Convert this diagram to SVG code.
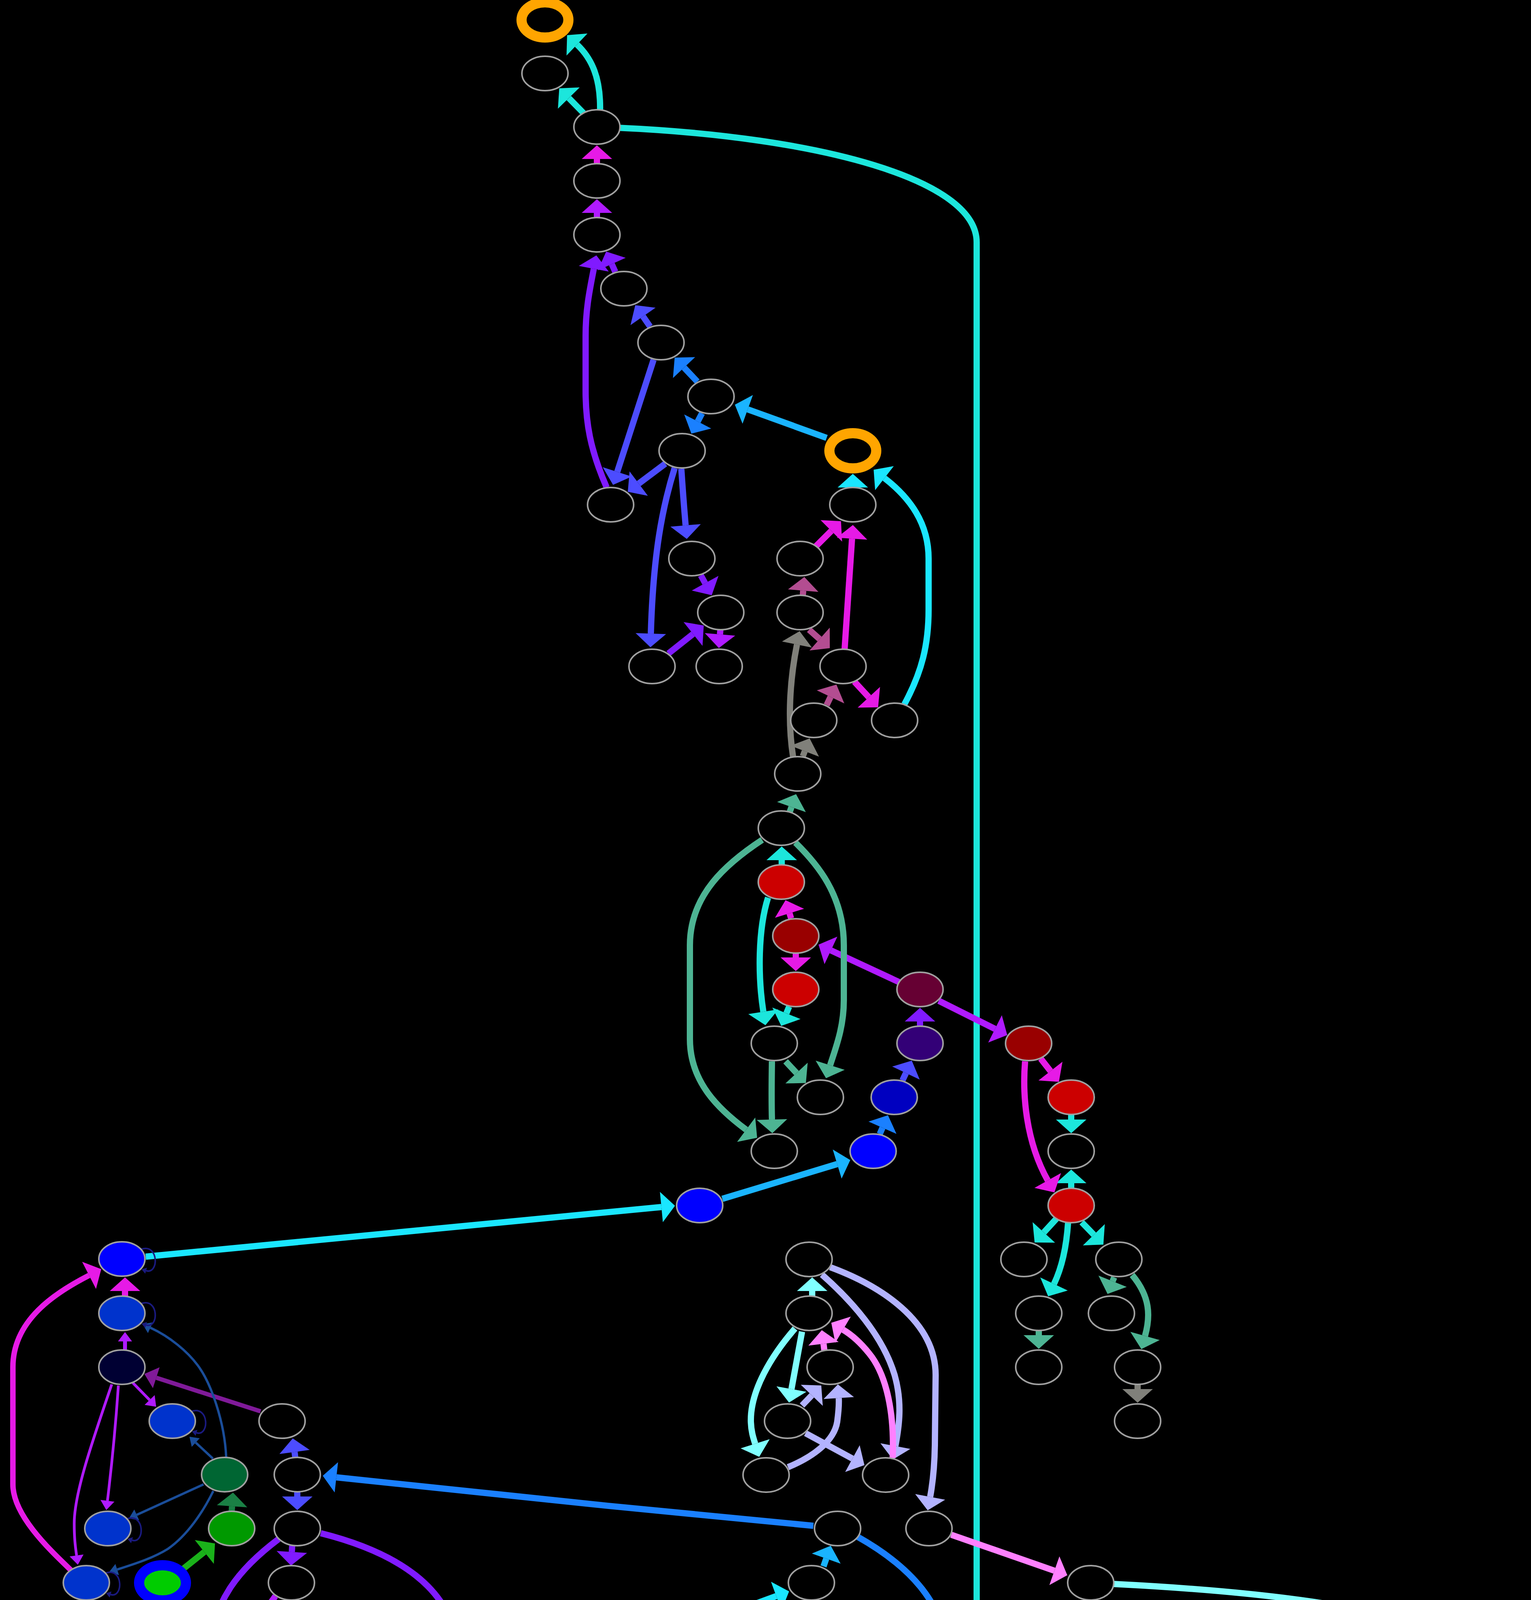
<svg xmlns="http://www.w3.org/2000/svg" width="3919" height="6159" viewBox="0 0 3919 6159">
<style>
.n{fill:#000;stroke:#a0a0a0;stroke-width:4}
.ring{fill:#000;stroke:#ffa500;stroke-width:26}
.e{fill:none;stroke-width:16}
.teal{stroke:#1ce6dc}.bcyan{stroke:#1ae6ff}.sky{stroke:#1ab4ff}.blue{stroke:#1a80ff}.bluev{stroke:#4c4cff}
.violet{stroke:#801aff}.purple{stroke:#b01aff}.magenta{stroke:#e61ae6}.mauve{stroke:#b34d91}.gray{stroke:#80807a}
.sea{stroke:#4db493}.lcyan{stroke:#80ffff}.lav{stroke:#b3b3ff}.pink{stroke:#ff80ff}.green1{stroke:#1a8045}.green2{stroke:#1ab21a}
.dpurple{stroke:#801a99}.dblue{stroke:#1a4d99}.navy{stroke:#1a1a80}
text{font-family:"Liberation Sans",Arial,sans-serif;font-size:50px;fill:#fff}
</style>
<defs>
<marker id="a-teal" markerUnits="userSpaceOnUse" orient="auto" refX="0" refY="0" viewBox="0 -40 36 80" markerWidth="36" markerHeight="80" overflow="visible"><path d="M0,-39 L35,0 L0,39 Z" fill="#1ce6dc"/></marker>
<marker id="a-bcyan" markerUnits="userSpaceOnUse" orient="auto" refX="0" refY="0" viewBox="0 -40 36 80" markerWidth="36" markerHeight="80" overflow="visible"><path d="M0,-39 L35,0 L0,39 Z" fill="#1ae6ff"/></marker>
<marker id="a-sky" markerUnits="userSpaceOnUse" orient="auto" refX="0" refY="0" viewBox="0 -40 36 80" markerWidth="36" markerHeight="80" overflow="visible"><path d="M0,-39 L35,0 L0,39 Z" fill="#1ab4ff"/></marker>
<marker id="a-blue" markerUnits="userSpaceOnUse" orient="auto" refX="0" refY="0" viewBox="0 -40 36 80" markerWidth="36" markerHeight="80" overflow="visible"><path d="M0,-39 L35,0 L0,39 Z" fill="#1a80ff"/></marker>
<marker id="a-bluev" markerUnits="userSpaceOnUse" orient="auto" refX="0" refY="0" viewBox="0 -40 36 80" markerWidth="36" markerHeight="80" overflow="visible"><path d="M0,-39 L35,0 L0,39 Z" fill="#4c4cff"/></marker>
<marker id="a-violet" markerUnits="userSpaceOnUse" orient="auto" refX="0" refY="0" viewBox="0 -40 36 80" markerWidth="36" markerHeight="80" overflow="visible"><path d="M0,-39 L35,0 L0,39 Z" fill="#801aff"/></marker>
<marker id="a-purple" markerUnits="userSpaceOnUse" orient="auto" refX="0" refY="0" viewBox="0 -40 36 80" markerWidth="36" markerHeight="80" overflow="visible"><path d="M0,-39 L35,0 L0,39 Z" fill="#b01aff"/></marker>
<marker id="a-magenta" markerUnits="userSpaceOnUse" orient="auto" refX="0" refY="0" viewBox="0 -40 36 80" markerWidth="36" markerHeight="80" overflow="visible"><path d="M0,-39 L35,0 L0,39 Z" fill="#e61ae6"/></marker>
<marker id="a-mauve" markerUnits="userSpaceOnUse" orient="auto" refX="0" refY="0" viewBox="0 -40 36 80" markerWidth="36" markerHeight="80" overflow="visible"><path d="M0,-39 L35,0 L0,39 Z" fill="#b34d91"/></marker>
<marker id="a-gray" markerUnits="userSpaceOnUse" orient="auto" refX="0" refY="0" viewBox="0 -40 36 80" markerWidth="36" markerHeight="80" overflow="visible"><path d="M0,-39 L35,0 L0,39 Z" fill="#80807a"/></marker>
<marker id="a-sea" markerUnits="userSpaceOnUse" orient="auto" refX="0" refY="0" viewBox="0 -40 36 80" markerWidth="36" markerHeight="80" overflow="visible"><path d="M0,-39 L35,0 L0,39 Z" fill="#4db493"/></marker>
<marker id="a-lcyan" markerUnits="userSpaceOnUse" orient="auto" refX="0" refY="0" viewBox="0 -40 36 80" markerWidth="36" markerHeight="80" overflow="visible"><path d="M0,-39 L35,0 L0,39 Z" fill="#80ffff"/></marker>
<marker id="a-lav" markerUnits="userSpaceOnUse" orient="auto" refX="0" refY="0" viewBox="0 -40 36 80" markerWidth="36" markerHeight="80" overflow="visible"><path d="M0,-39 L35,0 L0,39 Z" fill="#b3b3ff"/></marker>
<marker id="a-pink" markerUnits="userSpaceOnUse" orient="auto" refX="0" refY="0" viewBox="0 -40 36 80" markerWidth="36" markerHeight="80" overflow="visible"><path d="M0,-39 L35,0 L0,39 Z" fill="#ff80ff"/></marker>
<marker id="a-green1" markerUnits="userSpaceOnUse" orient="auto" refX="0" refY="0" viewBox="0 -40 36 80" markerWidth="36" markerHeight="80" overflow="visible"><path d="M0,-39 L35,0 L0,39 Z" fill="#1a8045"/></marker>
<marker id="a-green2" markerUnits="userSpaceOnUse" orient="auto" refX="0" refY="0" viewBox="0 -40 36 80" markerWidth="36" markerHeight="80" overflow="visible"><path d="M0,-39 L35,0 L0,39 Z" fill="#1ab21a"/></marker>
<marker id="s-purple" markerUnits="userSpaceOnUse" orient="auto" refX="0" refY="0" viewBox="0 -20 26 40" markerWidth="26" markerHeight="40" overflow="visible"><path d="M0,-18 L24,0 L0,18 Z" fill="#b01aff"/></marker>
<marker id="s-dblue" markerUnits="userSpaceOnUse" orient="auto" refX="0" refY="0" viewBox="0 -16 24 32" markerWidth="24" markerHeight="32" overflow="visible"><path d="M0,-15 L22,0 L0,15 Z" fill="#1a4d99"/></marker>
<marker id="m-dpurple" markerUnits="userSpaceOnUse" orient="auto" refX="0" refY="0" viewBox="0 -30 34 60" markerWidth="34" markerHeight="60" overflow="visible"><path d="M0,-28 L32,0 L0,28 Z" fill="#801a99"/></marker>
<marker id="t-navy" markerUnits="userSpaceOnUse" orient="auto" refX="0" refY="0" viewBox="0 -9 14 18" markerWidth="14" markerHeight="18" overflow="visible"><path d="M0,-8 L12,0 L0,8 Z" fill="#1a1a80"/></marker>
</defs>
<rect x="0" y="0" width="3919" height="6159" fill="#000"/>
<g id="connectors">
<path class="e teal" marker-end="url(#a-teal)" d="M1536,285 C1538,200 1515,150 1477,114"/>
<path class="e teal" marker-end="url(#a-teal)" d="M1500,296 L1456,251"/>
<path class="e teal" marker-end="url(#a-teal)" d="M1580,327 C2100,350 2500,460 2500,620 L2500,4620 C2500,4820 2250,4878 1730,4880"/>
<path class="e teal" marker-end="url(#a-teal)" d="M2001,2215 L2001,2202"/>
<path class="e teal" marker-end="url(#a-teal)" d="M1966,2298 C1940,2380 1940,2500 1954,2590"/>
<path class="e teal" marker-end="url(#a-teal)" d="M2020,2577 L2013,2594"/>
<path class="e teal" marker-end="url(#a-teal)" d="M2742,2850 L2742,2866"/>
<path class="e teal" marker-end="url(#a-teal)" d="M2742,3045 L2742,3029"/>
<path class="e teal" marker-end="url(#a-teal)" d="M2705,3119 L2672,3155"/>
<path class="e teal" marker-end="url(#a-teal)" d="M2734,3130 C2730,3190 2718,3245 2698,3287"/>
<path class="e teal" marker-end="url(#a-teal)" d="M2769,3129 L2800,3161"/>
<path class="e teal" marker-end="url(#a-teal)" d="M848,4366 L839,4386"/>
<path class="e teal" marker-end="url(#a-teal)" d="M884,4375 L940,4525"/>
<path class="e teal" marker-end="url(#a-teal)" d="M913,4364 L964,4405"/>
<path class="e teal" marker-end="url(#a-teal)" d="M816,4560 L816,4548"/>
<path class="e teal" marker-end="url(#a-teal)" d="M816,4648 L818,4663"/>
<path class="e bcyan" marker-end="url(#a-bcyan)" d="M2183,1260 L2183,1248"/>
<path class="e bcyan" marker-end="url(#a-bcyan)" d="M2315,1803 C2360,1720 2377,1650 2377,1560 L2377,1430 C2377,1340 2330,1275 2264,1224"/>
<path class="e bcyan" marker-end="url(#a-bcyan)" d="M373,3217 L1693,3090"/>
<path class="e bcyan" marker-end="url(#a-bcyan)" d="M1760,4169 L1987,4086"/>
<path class="e bcyan" marker-end="url(#a-bcyan)" d="M1652,4208 L1465,4279"/>
<path class="e bcyan" marker-end="url(#a-bcyan)" d="M1760,4211 L1971,4296"/>
<path class="e bcyan" marker-end="url(#a-bcyan)" d="M1975,4560 C1985,4420 2020,4240 2058,4131"/>
<path class="e bcyan" marker-end="url(#a-bcyan)" d="M1791,4648 L1791,4660"/>
<path class="e sky" marker-end="url(#a-sky)" d="M2116,1121 L1914,1048"/>
<path class="e sky" marker-end="url(#a-sky)" d="M1849,3069 L2143,2980"/>
<path class="e sky" marker-end="url(#a-sky)" d="M2108,4010 L2115,3990"/>
<path class="e sky" marker-end="url(#a-sky)" d="M2083,4099 L2195,4388"/>
<path class="e sky" marker-end="url(#a-sky)" d="M2072,4372 L2072,4385"/>
<path class="e sky" marker-end="url(#a-sky)" d="M2116,4366 L2159,4402"/>
<path class="e sky" marker-end="url(#a-sky)" d="M1360,4375 L1360,4385"/>
<path class="e blue" marker-end="url(#a-blue)" d="M1785,977 L1751,941"/>
<path class="e blue" marker-end="url(#a-blue)" d="M1797,1058 L1786,1079"/>
<path class="e blue" marker-end="url(#a-blue)" d="M2252,2903 L2259,2887"/>
<path class="e blue" marker-end="url(#a-blue)" d="M2082,3906 C1700,3870 1200,3820 861,3782"/>
<path class="e blue" marker-end="url(#a-blue)" d="M2195,3934 C2330,4010 2425,4110 2425,4250 L2425,4480 C2425,4560 2400,4610 2373,4664"/>
<path class="e blue" marker-end="url(#a-blue)" d="M2212,4502 L2189,4530"/>
<path class="e blue" marker-end="url(#a-blue)" d="M2257,4509 L2264,4525"/>
<path class="e bluev" marker-end="url(#a-bluev)" d="M1664,836 L1646,810"/>
<path class="e bluev" marker-end="url(#a-bluev)" d="M1673,921 L1580,1208"/>
<path class="e bluev" marker-end="url(#a-bluev)" d="M1703,1187 L1635,1238"/>
<path class="e bluev" marker-end="url(#a-bluev)" d="M1727,1198 C1695,1300 1672,1420 1666,1622"/>
<path class="e bluev" marker-end="url(#a-bluev)" d="M1744,1200 C1748,1260 1752,1310 1755,1345"/>
<path class="e bluev" marker-end="url(#a-bluev)" d="M2310,2766 L2319,2747"/>
<path class="e bluev" marker-end="url(#a-bluev)" d="M756,3732 L754,3717"/>
<path class="e bluev" marker-end="url(#a-bluev)" d="M761,3819 L761,3831"/>
<path class="e bluev" marker-end="url(#a-bluev)" d="M2130,4648 L2130,4660"/>
<path class="e violet" marker-end="url(#a-violet)" d="M1575,696 L1566,676"/>
<path class="e violet" marker-end="url(#a-violet)" d="M1553,1248 C1510,1150 1499,1080 1499,1000 L1499,860 C1499,790 1510,740 1520,688"/>
<path class="e violet" marker-end="url(#a-violet)" d="M1794,1473 L1805,1493"/>
<path class="e violet" marker-end="url(#a-violet)" d="M1711,1673 L1774,1623"/>
<path class="e violet" marker-end="url(#a-violet)" d="M2355,2627 L2355,2615"/>
<path class="e violet" marker-end="url(#a-violet)" d="M748,3957 L747,3973"/>
<path class="e violet" marker-end="url(#a-violet)" d="M821,3925 C1000,3970 1173,4060 1173,4250 L1173,4750 C1173,4850 1080,4920 1000,4971"/>
<path class="e violet" marker-end="url(#a-violet)" d="M713,3940 C620,4010 535,4100 536,4250 L537,4600 C538,4700 570,4760 614,4818"/>
<path class="e purple" marker-end="url(#a-purple)" d="M1528,557 L1528,545"/>
<path class="e purple" marker-end="url(#a-purple)" d="M1844,1612 L1843,1624"/>
<path class="e purple" marker-end="url(#a-purple)" d="M2301,2514 L2127,2433"/>
<path class="e purple" marker-end="url(#a-purple)" d="M2403,2562 L2547,2634"/>
<path class="e purple" marker-end="url(#a-purple)" d="M746,4096 L746,4109"/>
<path class="e purple" marker-end="url(#a-purple)" d="M705,4086 C650,4160 607,4250 607,4400 C607,4530 625,4600 645,4665"/>
<path class="e purple" marker-end="url(#a-purple)" d="M687,4836 L687,4823"/>
<path class="e purple" style="stroke-width:10" marker-end="url(#s-purple)" d="M320,3456 L320,3434"/>
<path class="e purple" style="stroke-width:7" marker-end="url(#s-purple)" d="M340,3540 L383,3584"/>
<path class="e purple" style="stroke-width:7" marker-end="url(#s-purple)" d="M303,3547 C296,3650 285,3760 275,3842"/>
<path class="e purple" style="stroke-width:7" marker-end="url(#s-purple)" d="M286,3544 C240,3680 190,3820 190,3900 C190,3940 193,3960 196,3982"/>
<path class="e magenta" marker-end="url(#a-magenta)" d="M1528,419 L1528,407"/>
<path class="e magenta" marker-end="url(#a-magenta)" d="M2087,1400 L2128,1359"/>
<path class="e magenta" marker-end="url(#a-magenta)" d="M2162,1662 C2168,1560 2176,1460 2181,1379"/>
<path class="e magenta" marker-end="url(#a-magenta)" d="M2187,1745 L2224,1785"/>
<path class="e magenta" marker-end="url(#a-magenta)" d="M2025,2351 L2021,2338"/>
<path class="e magenta" marker-end="url(#a-magenta)" d="M2037,2440 L2037,2451"/>
<path class="e magenta" marker-end="url(#a-magenta)" d="M2664,2710 L2689,2742"/>
<path class="e magenta" marker-end="url(#a-magenta)" d="M2624,2717 C2617,2800 2625,2920 2682,3022"/>
<path class="e magenta" marker-end="url(#a-magenta)" d="M320,3318 L320,3305"/>
<path class="e magenta" style="stroke-width:14" marker-end="url(#a-magenta)" d="M182,4020 C130,3970 33,3880 33,3800 L33,3500 C33,3380 140,3310 228,3265"/>
<path class="e magenta" marker-end="url(#a-magenta)" d="M775,4232 L810,4267"/>
<path class="e magenta" marker-end="url(#a-magenta)" d="M721,4708 L755,4671"/>
<path class="e magenta" marker-end="url(#a-magenta)" d="M1713,4284 L1713,4272"/>
<path class="e magenta" marker-end="url(#a-magenta)" d="M1484,4695 C1510,4560 1560,4420 1660,4264"/>
<path class="e magenta" marker-end="url(#a-magenta)" d="M1756,4355 C1830,4400 1885,4460 1922,4529"/>
<path class="e magenta" marker-end="url(#a-magenta)" d="M1766,4510 L1769,4525"/>
<path class="e magenta" marker-end="url(#a-magenta)" d="M1801,4499 L1883,4553"/>
<path class="e mauve" marker-end="url(#a-mauve)" d="M2055,1524 L2056,1512"/>
<path class="e mauve" marker-end="url(#a-mauve)" d="M2071,1612 L2098,1636"/>
<path class="e mauve" marker-end="url(#a-mauve)" d="M2116,1805 L2126,1784"/>
<path class="e mauve" marker-end="url(#a-mauve)" d="M1646,4558 L1688,4411"/>
<path class="e mauve" marker-end="url(#a-mauve)" d="M1669,4569 L1695,4537"/>
<path class="e mauve" marker-end="url(#a-mauve)" d="M1586,4636 L1531,4683"/>
<path class="e mauve" marker-end="url(#a-mauve)" d="M1844,5337 L1883,5372"/>
<path class="e mauve" marker-end="url(#a-mauve)" d="M1815,5343 C1825,5400 1838,5450 1849,5492"/>
<path class="e mauve" marker-end="url(#a-mauve)" d="M1802,5343 C1785,5430 1780,5530 1791,5630"/>
<path class="e gray" marker-end="url(#a-gray)" d="M2030,1937 C2018,1860 2018,1760 2040,1650"/>
<path class="e gray" marker-end="url(#a-gray)" d="M2055,1936 L2060,1923"/>
<path class="e gray" marker-end="url(#a-gray)" d="M2912,3544 L2912,3556"/>
<path class="e gray" marker-end="url(#a-gray)" d="M1640,4698 L1640,4686"/>
<path class="e gray" marker-end="url(#a-gray)" d="M1755,5202 L1768,5223"/>
<path class="e gray" marker-end="url(#a-gray)" d="M1677,5402 L1750,5351"/>
<path class="e gray" marker-end="url(#a-gray)" d="M1624,5475 L1624,5489"/>
<path class="e sea" marker-end="url(#a-sea)" d="M2021,2080 L2026,2066"/>
<path class="e sea" marker-end="url(#a-sea)" d="M1951,2150 C1860,2210 1766,2290 1766,2420 L1766,2660 C1766,2770 1840,2840 1910,2892"/>
<path class="e sea" marker-end="url(#a-sea)" d="M2036,2157 C2090,2210 2160,2290 2160,2420 L2160,2560 C2160,2630 2140,2680 2125,2727"/>
<path class="e sea" marker-end="url(#a-sea)" d="M1976,2717 C1975,2780 1975,2830 1976,2866"/>
<path class="e sea" marker-end="url(#a-sea)" d="M2011,2717 L2039,2747"/>
<path class="e sea" marker-end="url(#a-sea)" d="M2659,3405 L2659,3418"/>
<path class="e sea" marker-end="url(#a-sea)" d="M2852,3270 L2848,3280"/>
<path class="e sea" marker-end="url(#a-sea)" d="M2898,3264 C2945,3320 2945,3370 2931,3420"/>
<path class="e sea" marker-end="url(#a-sea)" d="M1640,4836 L1640,4824"/>
<path class="e sea" marker-end="url(#a-sea)" d="M1594,4919 L1556,4952"/>
<path class="e sea" marker-end="url(#a-sea)" d="M1625,4926 C1617,5050 1617,5250 1625,5350"/>
<path class="e sea" marker-end="url(#a-sea)" d="M1643,4928 L1704,5082"/>
<path class="e lcyan" marker-end="url(#a-lcyan)" d="M2079,3318 L2079,3305"/>
<path class="e lcyan" marker-end="url(#a-lcyan)" d="M2053,3409 L2026,3556"/>
<path class="e lcyan" marker-end="url(#a-lcyan)" d="M2035,3401 C1975,3470 1920,3560 1922,3640 C1923,3665 1928,3680 1933,3696"/>
<path class="e lcyan" marker-end="url(#a-lcyan)" d="M2785,4096 L2785,4109"/>
<path class="e lcyan" marker-end="url(#a-lcyan)" d="M2851,4055 C3250,4075 3600,4120 3720,4200 C3770,4240 3794,4290 3794,4350 L3794,4730 C3794,4820 3780,4880 3762,4938"/>
<path class="e lcyan" marker-end="url(#a-lcyan)" d="M2837,5062 L2837,5075"/>
<path class="e lav" marker-end="url(#a-lav)" d="M2104,3263 C2180,3330 2260,3420 2290,3520 C2310,3590 2302,3650 2292,3702"/>
<path class="e lav" marker-end="url(#a-lav)" d="M2125,3244 C2250,3290 2395,3380 2395,3520 L2393,3700 C2392,3760 2387,3800 2381,3832"/>
<path class="e lav" marker-end="url(#a-lav)" d="M2053,3598 L2078,3572"/>
<path class="e lav" marker-end="url(#a-lav)" d="M2017,3756 C2080,3730 2135,3690 2143,3640 C2147,3610 2148,3595 2147,3579"/>
<path class="e lav" marker-end="url(#a-lav)" d="M2062,3669 L2182,3734"/>
<path class="e lav" marker-end="url(#a-lav)" d="M2785,4233 L2785,4247"/>
<path class="e lav" marker-end="url(#a-lav)" d="M2851,4205 L3320,4307"/>
<path class="e lav" marker-end="url(#a-lav)" d="M2751,4223 C2700,4290 2650,4380 2626,4523"/>
<path class="e lav" marker-end="url(#a-lav)" d="M3703,4984 L3602,4925"/>
<path class="e lav" marker-end="url(#a-lav)" d="M3713,5055 L3699,5081"/>
<path class="e lav" marker-end="url(#a-lav)" d="M3763,5061 L3777,5084"/>
<path class="e pink" marker-end="url(#a-pink)" d="M2110,3456 L2108,3440"/>
<path class="e pink" marker-end="url(#a-pink)" d="M2285,3732 C2290,3620 2270,3520 2225,3465 C2205,3440 2185,3420 2158,3404"/>
<path class="e pink" marker-end="url(#a-pink)" d="M2435,3929 L2699,4021"/>
<path class="e pink" marker-end="url(#a-pink)" d="M2825,4368 L2869,4409"/>
<path class="e pink" marker-end="url(#a-pink)" d="M2793,4373 C2805,4480 2818,4590 2828,4663"/>
<path class="e pink" marker-end="url(#a-pink)" d="M2779,4373 C2752,4480 2740,4640 2750,4760 C2760,4850 2780,4900 2802,4944"/>
<path class="e pink" marker-end="url(#a-pink)" d="M2677,4584 L2853,4505"/>
<path class="e pink" marker-end="url(#a-pink)" d="M2664,4638 L2762,4698"/>
<path class="e pink" marker-end="url(#a-pink)" d="M2611,4650 C2615,4770 2650,4900 2760,4982"/>
<path class="e pink" marker-end="url(#a-pink)" d="M3407,4371 L3407,4385"/>
<path class="e pink" marker-end="url(#a-pink)" d="M3362,4352 C3250,4430 3150,4530 3152,4650 C3153,4730 3190,4780 3221,4816"/>
<path class="e pink" marker-end="url(#a-pink)" d="M3454,4368 C3510,4430 3525,4540 3486,4664"/>
<path class="e pink" marker-end="url(#a-pink)" d="M3480,4352 C3620,4420 3716,4520 3716,4620 L3716,4760 C3716,4850 3650,4910 3593,4968"/>
<path class="e pink" marker-end="url(#a-pink)" d="M3510,4836 L3502,4814"/>
<path class="e pink" marker-end="url(#a-pink)" d="M3510,4924 L3510,4936"/>
<path class="e dpurple" style="stroke-width:11" marker-end="url(#m-dpurple)" d="M667,3613 L400,3527"/>
<path class="e dblue" style="stroke-width:6" marker-end="url(#s-dblue)" d="M579,3731 C575,3640 540,3540 506,3495 C480,3460 435,3422 385,3399"/>
<path class="e dblue" style="stroke-width:6" marker-end="url(#s-dblue)" d="M545,3734 L501,3693"/>
<path class="e dblue" style="stroke-width:6" marker-end="url(#s-dblue)" d="M521,3800 L350,3878"/>
<path class="e dblue" style="stroke-width:6" marker-end="url(#s-dblue)" d="M546,3817 C520,3870 480,3930 430,3965 C390,3990 340,4005 300,4018"/>
<path class="e green1" marker-end="url(#a-green1)" d="M593,3870 L594,3856"/>
<path class="e green2" marker-end="url(#a-green2)" d="M468,4017 L523,3973"/>
<path class="e navy" style="stroke-width:4" marker-end="url(#t-navy)" d="M362,3198 C407,3183 407,3263 374,3253"/>
<path class="e navy" style="stroke-width:4" marker-end="url(#t-navy)" d="M362,3337 C407,3322 407,3402 374,3392"/>
<path class="e navy" style="stroke-width:4" marker-end="url(#t-navy)" d="M491,3613 C536,3598 536,3678 503,3668"/>
<path class="e navy" style="stroke-width:4" marker-end="url(#t-navy)" d="M326,3888 C371,3873 371,3953 338,3943"/>
<path class="e navy" style="stroke-width:4" marker-end="url(#t-navy)" d="M271,4027 C316,4012 316,4092 283,4082"/>
</g>
<g id="nodes">
<g id="n1"><ellipse class="ring" cx="1395" cy="51" rx="60" ry="45"/></g>
<g id="nA"><ellipse class="n" cx="1395" cy="188" rx="59" ry="44"/></g>
<g id="nB"><ellipse class="n" cx="1528" cy="325" rx="59" ry="44"/></g>
<g id="nC"><ellipse class="n" cx="1528" cy="463" rx="59" ry="44"/></g>
<g id="nD"><ellipse class="n" cx="1528" cy="601" rx="59" ry="44"/></g>
<g id="nE"><ellipse class="n" cx="1597" cy="739" rx="59" ry="44"/></g>
<g id="nF"><ellipse class="n" cx="1692" cy="877" rx="59" ry="44"/></g>
<g id="nG"><ellipse class="n" cx="1820" cy="1015" rx="59" ry="44"/></g>
<g id="nH"><ellipse class="n" cx="1746" cy="1154" rx="59" ry="44"/></g>
<g id="nOR2"><ellipse class="ring" cx="2183" cy="1154" rx="60" ry="45"/></g>
<g id="nI"><ellipse class="n" cx="1563" cy="1292" rx="59" ry="44"/></g>
<g id="nJ"><ellipse class="n" cx="2183" cy="1292" rx="59" ry="44"/></g>
<g id="nK"><ellipse class="n" cx="1771" cy="1430" rx="59" ry="44"/></g>
<g id="nL"><ellipse class="n" cx="2048" cy="1430" rx="59" ry="44"/></g>
<g id="nM"><ellipse class="n" cx="1845" cy="1568" rx="59" ry="44"/></g>
<g id="nN"><ellipse class="n" cx="2048" cy="1568" rx="59" ry="44"/></g>
<g id="nO"><ellipse class="n" cx="1669" cy="1706" rx="59" ry="44"/></g>
<g id="nP"><ellipse class="n" cx="1841" cy="1706" rx="59" ry="44"/></g>
<g id="nQ"><ellipse class="n" cx="2158" cy="1706" rx="59" ry="44"/></g>
<g id="nR"><ellipse class="n" cx="2083" cy="1844" rx="59" ry="44"/></g>
<g id="nS"><ellipse class="n" cx="2290" cy="1844" rx="59" ry="44"/></g>
<g id="nT"><ellipse class="n" cx="2042" cy="1981" rx="59" ry="44"/></g>
<g id="nU"><ellipse class="n" cx="2000" cy="2120" rx="59" ry="44"/></g>
<g id="nV"><ellipse class="n" style="fill:#cc0000" cx="2000" cy="2258" rx="59" ry="44"/></g>
<g id="nW"><ellipse class="n" style="fill:#990000" cx="2037" cy="2396" rx="59" ry="44"/></g>
<g id="nX"><ellipse class="n" style="fill:#cc0000" cx="2037" cy="2533" rx="59" ry="44"/></g>
<g id="nY"><ellipse class="n" style="fill:#660033" cx="2355" cy="2533" rx="59" ry="44"/></g>
<g id="nZ"><ellipse class="n" cx="1982" cy="2671" rx="59" ry="44"/></g>
<g id="nAA"><ellipse class="n" style="fill:#330077" cx="2355" cy="2671" rx="59" ry="44"/></g>
<g id="nAB"><ellipse class="n" cx="2100" cy="2809" rx="59" ry="44"/></g>
<g id="nAC"><ellipse class="n" style="fill:#0000c0" cx="2289" cy="2809" rx="59" ry="44"/></g>
<g id="nAD"><ellipse class="n" cx="1982" cy="2947" rx="59" ry="44"/></g>
<g id="nAE"><ellipse class="n" style="fill:#0000ff" cx="2235" cy="2947" rx="59" ry="44"/></g>
<g id="nAF"><ellipse class="n" style="fill:#0000ff" cx="1791" cy="3086" rx="59" ry="44"/></g>
<g id="nAG"><ellipse class="n" style="fill:#990000" cx="2633" cy="2671" rx="59" ry="44"/></g>
<g id="nAH"><ellipse class="n" style="fill:#cc0000" cx="2742" cy="2809" rx="59" ry="44"/></g>
<g id="nAI"><ellipse class="n" cx="2742" cy="2947" rx="59" ry="44"/></g>
<g id="nAJ"><ellipse class="n" style="fill:#cc0000" cx="2742" cy="3086" rx="59" ry="44"/></g>
<g id="nAK"><ellipse class="n" cx="2621" cy="3224" rx="59" ry="44"/></g>
<g id="nAL"><ellipse class="n" cx="2864" cy="3224" rx="59" ry="44"/></g>
<g id="nAM"><ellipse class="n" cx="2659" cy="3362" rx="59" ry="44"/></g>
<g id="nAN"><ellipse class="n" cx="2845" cy="3362" rx="59" ry="44"/></g>
<g id="nAO"><ellipse class="n" cx="2659" cy="3500" rx="59" ry="44"/></g>
<g id="nAP"><ellipse class="n" cx="2912" cy="3500" rx="59" ry="44"/></g>
<g id="nAQ"><ellipse class="n" cx="2912" cy="3638" rx="59" ry="44"/></g>
<g id="nAF2"><ellipse class="n" style="fill:#0000ff" cx="312" cy="3223" rx="59" ry="44"/></g>
<g id="nBA"><ellipse class="n" style="fill:#0033cc" cx="312" cy="3362" rx="59" ry="44"/></g>
<g id="nBB"><ellipse class="n" style="fill:#000033" cx="312" cy="3500" rx="59" ry="44"/></g>
<g id="nBC"><ellipse class="n" style="fill:#0033cc" cx="441" cy="3638" rx="59" ry="44"/></g>
<g id="nBD"><ellipse class="n" cx="722" cy="3638" rx="59" ry="44"/></g>
<g id="nBE"><ellipse class="n" style="fill:#006633" cx="575" cy="3775" rx="59" ry="44"/></g>
<g id="nBF"><ellipse class="n" cx="761" cy="3775" rx="59" ry="44"/></g>
<g id="nBG"><ellipse class="n" style="fill:#0033cc" cx="276" cy="3913" rx="59" ry="44"/></g>
<g id="nBH"><ellipse class="n" style="fill:#009900" cx="593" cy="3913" rx="59" ry="44"/></g>
<g id="nBI"><ellipse class="n" cx="761" cy="3913" rx="59" ry="44"/></g>
<g id="nBJ"><ellipse class="n" style="fill:#0033cc" cx="221" cy="4052" rx="59" ry="44"/></g>
<g id="nBK"><ellipse cx="416" cy="4052" rx="60" ry="45" style="fill:#00cc00;stroke:#0000ff;stroke-width:26"/></g>
<g id="nBL"><ellipse class="n" cx="746" cy="4052" rx="59" ry="44"/></g>
<g id="nBM"><ellipse class="n" cx="746" cy="4190" rx="59" ry="44"/></g>
<g id="nBN"><ellipse class="n" cx="874" cy="4328" rx="59" ry="44"/></g>
<g id="nBO"><ellipse class="n" cx="808" cy="4466" rx="59" ry="44"/></g>
<g id="nOR3"><ellipse class="ring" cx="1051" cy="4466" rx="60" ry="45"/></g>
<g id="nBP"><ellipse class="n" cx="808" cy="4604" rx="59" ry="44"/></g>
<g id="nBQ"><ellipse class="n" cx="976" cy="4604" rx="59" ry="44"/></g>
<g id="nBR"><ellipse class="n" cx="679" cy="4741" rx="59" ry="44"/></g>
<g id="nBS"><ellipse class="n" cx="847" cy="4741" rx="59" ry="44"/></g>
<g id="nBT"><ellipse class="n" cx="679" cy="4880" rx="59" ry="44"/></g>
<g id="nBU"><ellipse class="n" cx="921" cy="5018" rx="59" ry="44"/></g>
<g id="nCA"><ellipse class="n" cx="2071" cy="3224" rx="59" ry="44"/></g>
<g id="nCB"><ellipse class="n" cx="2071" cy="3362" rx="59" ry="44"/></g>
<g id="nCC"><ellipse class="n" cx="2125" cy="3500" rx="59" ry="44"/></g>
<g id="nCD"><ellipse class="n" cx="2016" cy="3638" rx="59" ry="44"/></g>
<g id="nCE"><ellipse class="n" cx="1961" cy="3776" rx="59" ry="44"/></g>
<g id="nCF"><ellipse class="n" cx="2267" cy="3776" rx="59" ry="44"/></g>
<g id="nCG"><ellipse class="n" cx="2144" cy="3913" rx="59" ry="44"/></g>
<g id="nCH"><ellipse class="n" cx="2378" cy="3913" rx="59" ry="44"/></g>
<g id="nDA"><ellipse class="n" cx="2077" cy="4052" rx="59" ry="44"/></g>
<g id="nDB"><ellipse class="n" cx="1705" cy="4190" rx="59" ry="44"/></g>
<g id="nOR4"><ellipse class="ring" cx="1368" cy="4328" rx="60" ry="45"/></g>
<g id="nDC"><ellipse class="n" cx="1705" cy="4328" rx="59" ry="44"/></g>
<g id="nDD"><ellipse class="n" cx="2077" cy="4328" rx="59" ry="44"/></g>
<g id="nDE"><ellipse class="n" cx="1368" cy="4466" rx="59" ry="44"/></g>
<g id="nDF"><ellipse class="n" cx="1760" cy="4466" rx="59" ry="44"/></g>
<g id="nDG"><ellipse class="n" cx="2077" cy="4466" rx="59" ry="44"/></g>
<g id="nDH"><ellipse class="n" cx="2245" cy="4466" rx="59" ry="44"/></g>
<g id="nDI"><ellipse class="n" cx="1631" cy="4604" rx="59" ry="44"/></g>
<g id="nDJ"><ellipse class="n" cx="1800" cy="4604" rx="59" ry="44"/></g>
<g id="nDK"><ellipse class="n" cx="1967" cy="4604" rx="59" ry="44"/></g>
<g id="nDL"><ellipse class="n" cx="2135" cy="4604" rx="59" ry="44"/></g>
<g id="nDM"><ellipse class="n" cx="2303" cy="4604" rx="59" ry="44"/></g>
<g id="nDN"><ellipse class="n" cx="1464" cy="4742" rx="59" ry="44"/></g>
<g id="nDO"><ellipse class="n" cx="1631" cy="4742" rx="59" ry="44"/></g>
<g id="nDP"><ellipse class="n" cx="1800" cy="4742" rx="59" ry="44"/></g>
<g id="nDQ"><ellipse class="n" cx="2135" cy="4742" rx="59" ry="44"/></g>
<g id="nDR"><ellipse class="n" cx="2341" cy="4742" rx="59" ry="44"/></g>
<g id="nDS"><ellipse class="n" cx="1631" cy="4880" rx="59" ry="44"/></g>
<g id="nDT"><ellipse class="n" cx="1498" cy="5018" rx="59" ry="44"/></g>
<g id="nDU"><ellipse class="n" cx="1741" cy="5156" rx="59" ry="44"/></g>
<g id="nDV"><ellipse class="n" cx="1816" cy="5293" rx="59" ry="44"/></g>
<g id="nDW"><ellipse class="n" cx="1632" cy="5431" rx="59" ry="44"/></g>
<g id="nDX"><ellipse class="n" cx="1949" cy="5431" rx="59" ry="44"/></g>
<g id="nDY"><ellipse class="n" cx="1632" cy="5570" rx="59" ry="44"/></g>
<g id="nDZ"><ellipse class="n" cx="1875" cy="5570" rx="59" ry="44"/></g>
<g id="nEA"><ellipse class="n" cx="1820" cy="5707" rx="59" ry="44"/></g>
<g id="nFA"><ellipse class="n" cx="2792" cy="4052" rx="59" ry="44"/></g>
<g id="nFB"><ellipse class="n" cx="2792" cy="4189" rx="59" ry="44"/></g>
<g id="nFC"><ellipse class="n" cx="2792" cy="4328" rx="59" ry="44"/></g>
<g id="nFD"><ellipse class="n" cx="3415" cy="4328" rx="59" ry="44"/></g>
<g id="nFE"><ellipse class="n" cx="2939" cy="4465" rx="59" ry="44"/></g>
<g id="nFF"><ellipse class="n" cx="3415" cy="4465" rx="59" ry="44"/></g>
<g id="nFG"><ellipse class="n" cx="2621" cy="4604" rx="59" ry="44"/></g>
<g id="nFH"><ellipse class="n" cx="3245" cy="4604" rx="59" ry="44"/></g>
<g id="nFI"><ellipse class="n" cx="2845" cy="4742" rx="59" ry="44"/></g>
<g id="nFJ"><ellipse class="n" cx="3461" cy="4742" rx="59" ry="44"/></g>
<g id="nFK"><ellipse class="n" cx="3034" cy="4880" rx="59" ry="44"/></g>
<g id="nFL"><ellipse class="n" cx="3277" cy="4880" rx="59" ry="44"/></g>
<g id="nFM"><ellipse class="n" cx="3519" cy="4880" rx="59" ry="44"/></g>
<g id="nFN"><ellipse class="n" cx="2845" cy="5018" rx="59" ry="44"/></g>
<g id="nFO"><ellipse class="n" cx="3034" cy="5018" rx="59" ry="44"/></g>
<g id="nFP"><ellipse class="n" cx="3519" cy="5018" rx="59" ry="44"/></g>
<g id="nFQ"><ellipse class="n" cx="3745" cy="5018" rx="59" ry="44"/></g>
<g id="nFR"><ellipse class="n" cx="2845" cy="5156" rx="59" ry="44"/></g>
<g id="nFS"><ellipse class="n" cx="3115" cy="5156" rx="59" ry="44"/></g>
<g id="nFT"><ellipse class="n" cx="3661" cy="5156" rx="59" ry="44"/></g>
<g id="nFU"><ellipse class="n" cx="3828" cy="5156" rx="59" ry="44"/></g>
<g id="nFV"><ellipse class="n" cx="3006" cy="5294" rx="59" ry="44"/></g>
<g id="nFW"><ellipse class="n" cx="3174" cy="5294" rx="59" ry="44"/></g>
<g id="nFX"><ellipse class="n" cx="3006" cy="5432" rx="59" ry="44"/></g>
<g id="nFY"><ellipse class="n" cx="2939" cy="5570" rx="59" ry="44"/></g>
<g id="nFZ"><ellipse class="n" cx="3006" cy="5708" rx="59" ry="44"/></g>
</g>
<g id="legend">
<text x="7" y="5903">Feature: t-0<tspan x="341">steps shown as green -&gt; blue -&gt; red (early to late)</tspan></text>
<text x="7" y="5953">sensor input: [86]</text>
<text x="983" y="5953">t-1 output: 937</text>
<text x="983" y="6003">t-2 output: 981</text>
<text x="983" y="6053">t-3 output: 911</text>
<text x="983" y="6103">t-4 output: 956</text>
</g>
</svg>
